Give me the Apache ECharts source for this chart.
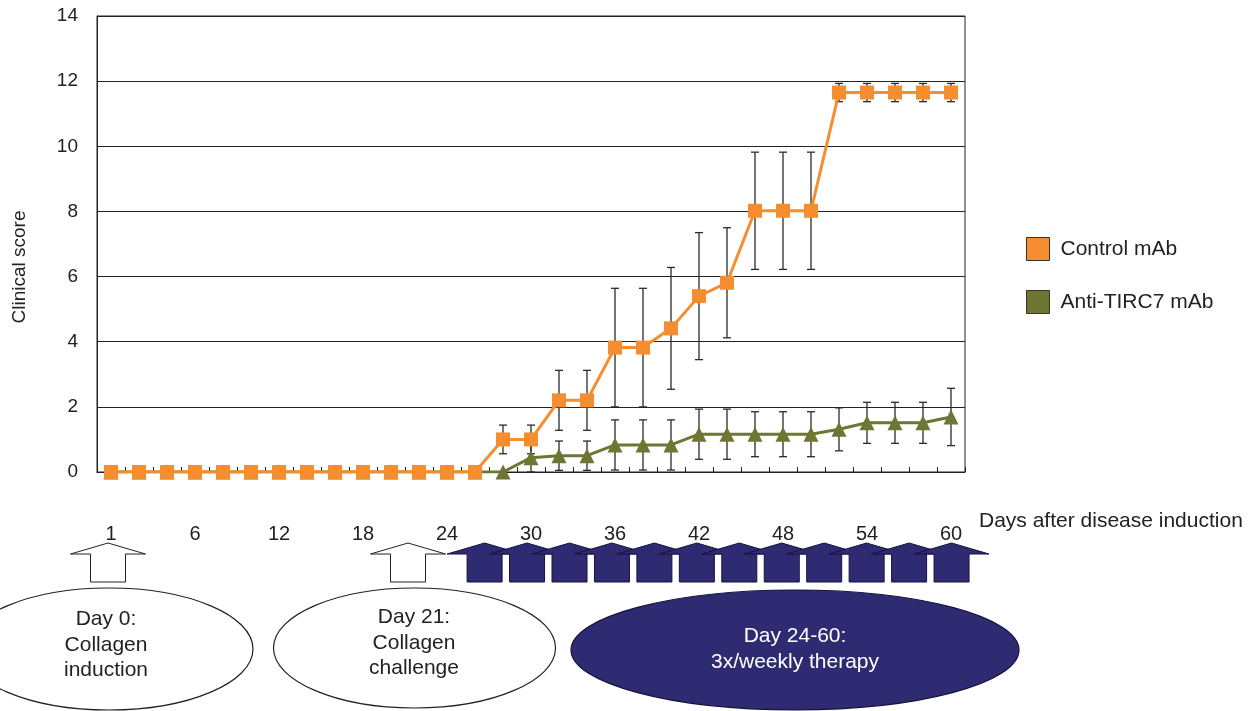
<!DOCTYPE html>
<html><head><meta charset="utf-8">
<script src="https://cdn.jsdelivr.net/npm/echarts@6/dist/echarts.min.js"></script>
<style>html,body{margin:0;padding:0;background:#fff}#c{width:1260px;height:711px}</style>
</head><body><div id="c"></div>
<script>
// ---- data ----
const categories = ['1','2','4','6','8','10','12','14','16','18','20','22','24','26','28','30',
  '32','34','36','38','40','42','44','46','48','50','52','54','56','58','60'];
const controlValues = [0,0,0,0,0,0,0,0,0,0,0,0,0,0,1.0,1.0,2.2,2.2,3.82,3.82,4.41,5.4,5.81,8.02,8.02,8.02,11.65,11.65,11.65,11.65,11.65];
const controlErr    = [0,0,0,0,0,0,0,0,0,0,0,0,0,0,0.44,0.44,0.92,0.92,1.82,1.82,1.87,1.95,1.69,1.8,1.8,1.8,0.28,0.28,0.28,0.28,0.28];
const antiValues = [0,0,0,0,0,0,0,0,0,0,0,0,0,0,0,0.44,0.5,0.5,0.83,0.83,0.83,1.16,1.16,1.16,1.16,1.16,1.31,1.51,1.51,1.51,1.69];
const antiErr    = [0,0,0,0,0,0,0,0,0,0,0,0,0,0,0,0.44,0.45,0.45,0.77,0.77,0.77,0.77,0.77,0.69,0.69,0.69,0.66,0.63,0.63,0.63,0.88];
const yTicks = {min:0, max:14, interval:2};
const seriesNames = ['Control mAb','Anti-TIRC7 mAb'];
const ellipseTexts = ['Day 0:\nCollagen\ninduction','Day 21:\nCollagen\nchallenge','Day 24-60:\n3x/weekly therapy'];
const xAxisName = 'Days after disease induction';
const yAxisName = 'Clinical score';

// ---- styles / layout ----
const FONT = '"Liberation Sans", Arial, sans-serif';
const ORANGE = '#F68D2E', OLIVE = '#6F7533', NAVY = '#2E2B73', INK = '#222';

function errData(vals, errs){
  const out = [];
  vals.forEach((v,i)=>{ if (errs[i] > 0) out.push([i, v - errs[i], v + errs[i]]); });
  return out;
}
function errRender(params, api){
  const x = api.value(0);
  const pLo = api.coord([x, api.value(1)]);
  const pHi = api.coord([x, api.value(2)]);
  const w = 4, st = {stroke:'#2a2a2a', lineWidth:1.3};
  return {type:'group', children:[
    {type:'line', shape:{x1:pHi[0],y1:pHi[1],x2:pLo[0],y2:pLo[1]}, style:st},
    {type:'line', shape:{x1:pHi[0]-w,y1:pHi[1],x2:pHi[0]+w,y2:pHi[1]}, style:st},
    {type:'line', shape:{x1:pLo[0]-w,y1:pLo[1],x2:pLo[0]+w,y2:pLo[1]}, style:st}
  ]};
}

function arrow(tx, fill, stroke){
  const ty = 543, hb = 554, bot = 582, hw = 37.5, sw = 17.5;
  return {type:'polygon', shape:{points:[[tx,ty],[tx+hw,hb],[tx+sw,hb],[tx+sw,bot],[tx-sw,bot],[tx-sw,hb],[tx-hw,hb]]},
    style:{fill:fill, stroke:stroke, lineWidth:1}};
}
const graphics = [];
graphics.push(arrow(108,'#fff','#222'));
graphics.push(arrow(408,'#fff','#222'));
for (let k = 0; k < 12; k++) graphics.push(arrow(484.6 + 42.45*k, NAVY, '#15133a'));
graphics.push({type:'ellipse', shape:{cx:109, cy:649, rx:144, ry:61}, style:{fill:'#fff', stroke:'#222', lineWidth:1.2}});
graphics.push({type:'ellipse', shape:{cx:414.5, cy:648, rx:141, ry:60}, style:{fill:'#fff', stroke:'#222', lineWidth:1.2}});
graphics.push({type:'ellipse', shape:{cx:795, cy:650, rx:224, ry:60}, style:{fill:NAVY, stroke:'#15133a', lineWidth:1.2}});
graphics.push({type:'text', x:106, y:645, style:{text:ellipseTexts[0], fontSize:21, fontFamily:FONT, fill:INK, align:'center', verticalAlign:'middle', lineHeight:25.5}});
graphics.push({type:'text', x:414, y:643, style:{text:ellipseTexts[1], fontSize:21, fontFamily:FONT, fill:INK, align:'center', verticalAlign:'middle', lineHeight:25.5}});
graphics.push({type:'text', x:795, y:649, style:{text:ellipseTexts[2], fontSize:21, fontFamily:FONT, fill:'#fff', align:'center', verticalAlign:'middle', lineHeight:26}});

const chart = echarts.init(document.getElementById('c'), null, {renderer:'canvas'});
chart.setOption({
  animation:false,
  backgroundColor:'#fff',
  textStyle:{fontFamily:FONT},
  grid:{left:97, top:16, width:868, height:456, show:true, borderColor:INK, borderWidth:1, backgroundColor:'transparent'},
  legend:{
    orient:'vertical', left:1021, top:232, itemWidth:23, itemHeight:23, itemGap:29,
    data:[{name:seriesNames[0], icon:'rect'},{name:seriesNames[1], icon:'rect'}],
    itemStyle:{borderColor:'#333', borderWidth:1},
    textStyle:{fontSize:21, color:INK, fontFamily:FONT, padding:[0,0,0,6]}
  },
  xAxis:{
    type:'category', data:categories, boundaryGap:true,
    name:xAxisName, nameLocation:'end', nameGap:14,
    nameTextStyle:{fontSize:21, color:INK, fontFamily:FONT, align:'left', verticalAlign:'top', padding:[39,0,0,0]},
    axisLine:{lineStyle:{color:INK, width:1}},
    axisTick:{show:true, inside:true, length:5, interval:0, lineStyle:{color:INK}},
    axisLabel:{interval:2, margin:52, fontSize:20, color:INK, fontFamily:FONT},
    splitLine:{show:false}
  },
  yAxis:{
    type:'value', min:yTicks.min, max:yTicks.max, interval:yTicks.interval,
    name:yAxisName, nameLocation:'middle', nameGap:68, nameRotate:90,
    nameTextStyle:{fontSize:19, color:INK, fontFamily:FONT, padding:[0,46,0,0]},
    axisLine:{show:true, lineStyle:{color:INK, width:1}},
    axisTick:{show:false},
    axisLabel:{margin:19, fontSize:19, color:INK, fontFamily:FONT},
    splitLine:{show:true, lineStyle:{color:INK, width:1}}
  },
  series:[
    {type:'custom', name:'errC', renderItem:errRender, data:errData(controlValues, controlErr), encode:{x:0, y:[1,2]}, z:2, silent:true},
    {type:'custom', name:'errA', renderItem:errRender, data:errData(antiValues, antiErr), encode:{x:0, y:[1,2]}, z:2, silent:true},
    {type:'line', name:seriesNames[1], data:antiValues, symbol:'triangle', symbolSize:15, showAllSymbol:true,
      lineStyle:{color:OLIVE, width:3}, itemStyle:{color:OLIVE}, z:3},
    {type:'line', name:seriesNames[0], data:controlValues, symbol:'rect', symbolSize:14, showAllSymbol:true,
      lineStyle:{color:ORANGE, width:3}, itemStyle:{color:ORANGE}, z:4}
  ],
  graphic:graphics
});
</script></body></html>
